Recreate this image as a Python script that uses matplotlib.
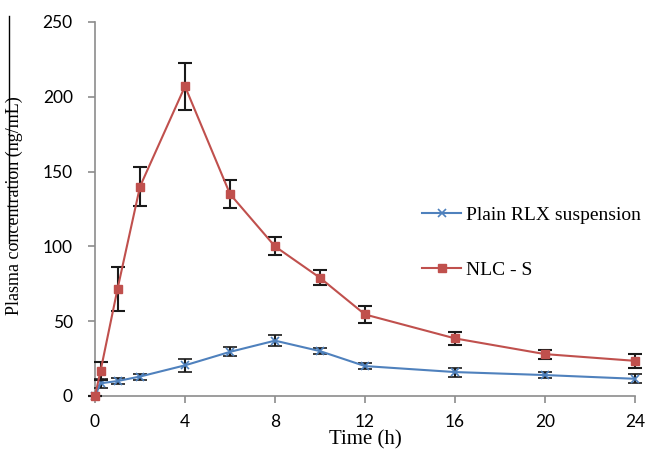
import matplotlib.pyplot as plt
from matplotlib.lines import Line2D

# Dados
tempo = [0, 0.25, 1, 2, 4, 6, 8, 10, 12, 16, 20, 24]
plain_rlx = [0, 8.5, 10, 13, 20.5, 29.5, 37, 30, 20, 16, 14, 11.5]
plain_rlx_err = [0, 3, 2, 2, 4.5, 3, 3.5, 2, 2, 3, 2, 3]
nlc_s = [0, 17, 71.5, 140, 207, 135, 100, 79, 54.5, 38.5, 28, 23.5]
nlc_s_err = [0, 6, 15, 13, 15.5, 9.5, 6, 5, 5.5, 4.5, 3, 4.5]

x_ticks = [0, 4, 8, 12, 16, 20, 24]
y_ticks = [0, 50, 100, 150, 200, 250]

fig = plt.figure(figsize=(6.46, 4.54), dpi=100)
ax = fig.add_axes([95 / 646, 58 / 454, 540 / 646, 374 / 454])

azul = '#4F81BD'
vermelho = '#C0504D'

c1 = ax.errorbar(tempo, plain_rlx, yerr=plain_rlx_err, color=azul, marker='x',
                 markersize=6, markeredgewidth=1.2, linewidth=1.5,
                 ecolor='#1a1a1a', elinewidth=1.5, capsize=5, capthick=1.5,
                 clip_on=False, zorder=3)
c2 = ax.errorbar(tempo, nlc_s, yerr=nlc_s_err, color=vermelho, marker='s',
                 markersize=6, linewidth=1.5,
                 ecolor='#1a1a1a', elinewidth=1.5, capsize=5, capthick=1.5,
                 clip_on=False, zorder=4)

ax.set_xlim(0, 24)
ax.set_ylim(0, 250)
ax.set_xticks(x_ticks)
ax.set_yticks(y_ticks)

for lado in ['top', 'right']:
    ax.spines[lado].set_visible(False)
for lado in ['left', 'bottom']:
    ax.spines[lado].set_color('#8c8c8c')
    ax.spines[lado].set_linewidth(1.2)
ax.spines['bottom'].set_bounds(-0.2, 24)
ax.tick_params(axis='both', colors='#8c8c8c', length=5, width=1.2,
               labelcolor='black', labelsize=12.5)
ax.tick_params(axis='x', pad=8)
ax.tick_params(axis='y', pad=11)
for lbl in ax.get_xticklabels() + ax.get_yticklabels():
    lbl.set_fontfamily('Lato')

ax.set_xlabel('Time (h)', fontsize=15, family='Liberation Serif', labelpad=0)
ax.set_ylabel('Plasma concentration (ng/mL)', fontsize=13,
              family='Liberation Serif')
ax.yaxis.set_label_coords(-0.133, 0.51)

# Legenda só com linha e marcador (sem barras de erro)
handles = [Line2D([], [], color=azul, marker='x', markersize=6,
                  markeredgewidth=1.2, linewidth=1.5),
           Line2D([], [], color=vermelho, marker='s', markersize=6,
                  linewidth=1.5)]
ax.legend(handles, ['Plain RLX suspension', 'NLC - S'],
          loc='center left', bbox_to_anchor=(0.606, 0.41), frameon=False,
          prop={'family': 'Liberation Serif', 'size': 14},
          labelspacing=1.9, handlelength=2.0, handletextpad=0.25,
          borderaxespad=0, borderpad=0)

# traço vertical que aparece no canto da imagem original
fig.add_artist(Line2D([8.5 / 646, 8.5 / 646], [1 - 16 / 454, 1 - 243 / 454],
                      color='black', linewidth=1))

fig.savefig('out.png', dpi=100)
